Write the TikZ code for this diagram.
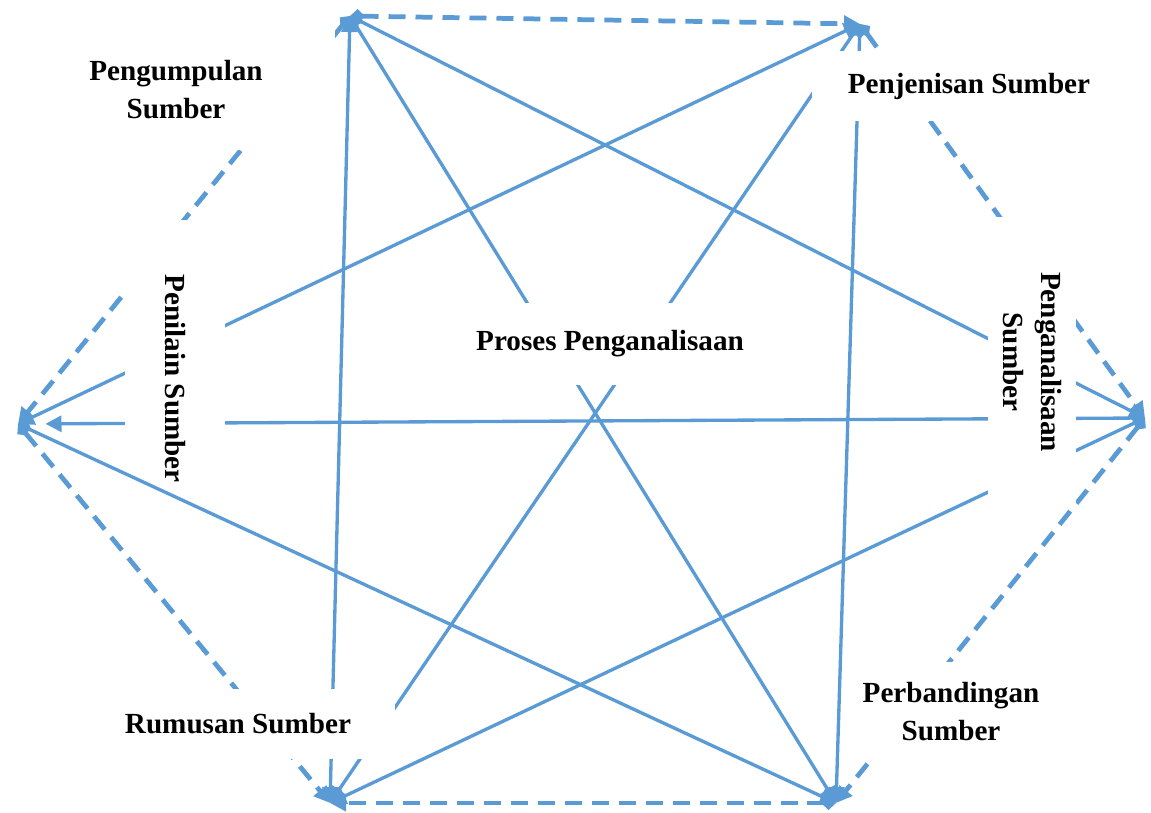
\documentclass[tikz,border=0pt]{standalone}
\usepackage{fontspec}
\setmainfont{Liberation Serif}
\usetikzlibrary{arrows.meta}
\definecolor{lineblue}{HTML}{5B9BD5}

\begin{document}
\begin{tikzpicture}[x=0.02cm,y=-0.02cm,
		arr/.tip={Triangle[length=0.32cm,width=0.32cm]},
		dia/.tip={Diamond[length=0.3cm,width=0.28cm]},
		solidline/.style={draw=lineblue,line width=1.9pt,dia-arr},
		dashline/.style={draw=lineblue,line width=2.7pt,dash pattern=on 0.34cm off 0.2cm,dia-arr},
		lbl/.style={fill=white,inner sep=0pt,align=center,font=\fontsize{16.6}{21.6}\selectfont\bfseries}]
	\useasboundingbox (0,0) rectangle (1151,813);
	
	% sudut segi enam
	\coordinate (TL) at (350,16);
	\coordinate (TR) at (860,24);
	\coordinate (RI) at (1145,418);
	\coordinate (BR) at (836,803);
	\coordinate (BL) at (330,803);
	\coordinate (LE) at (18,424);
	
	% sisi putus-putus
	\draw[dashline] (TL)--(TR);
	\draw[dashline] (TR)--(RI);
	\draw[dashline] (RI)--(BR);
	\draw[dashline] (BR)--(BL);
	\draw[dashline] (TL)--(LE);
	\draw[dashline] (LE)--(BL);
	
	% diagonal
	\draw[solidline,arr-arr] (TL)--(BL);
	\draw[solidline] (TL)--(BR);
	\draw[solidline] (TL)--(RI);
	\draw[solidline,arr-arr] (TR)--(LE);
	\draw[solidline] (TR)--(BL);
	\draw[solidline] (TR)--(BR);
	\draw[solidline,shorten >=0.55cm] (RI)--(LE);
	\draw[solidline] (RI)--(BL);
	\draw[solidline] (LE)--(BR);
	
	% label
	\node[lbl,minimum width=6.36cm,minimum height=2.4cm] (PG) at (176,90) {Pengumpulan\\Sumber};
	\node[lbl,minimum width=6.28cm,minimum height=1.4cm] (PJ) at (969,86) {Penjenisan Sumber};
	\node[lbl,rotate=-90,minimum width=5.8cm,minimum height=1.76cm] (PA) at (1032,362) {Penganalisaan\\Sumber};
	\node[lbl,minimum width=3.56cm,minimum height=2cm] (PB) at (951,712) {Perbandingan\\Sumber};
	\node[lbl,minimum width=6.28cm,minimum height=1.4cm] (RU) at (238,724) {Rumusan Sumber};
	\node[lbl,rotate=-90,minimum height=2cm] (PN) at (175,342) {\makebox[4.9cm][l]{\hspace*{1.1cm}Penilain Sumber}};
	\node[lbl,minimum width=5.6cm,minimum height=1.66cm] (PP) at (610,344) {Proses Penganalisaan};
\end{tikzpicture}
\end{document}
